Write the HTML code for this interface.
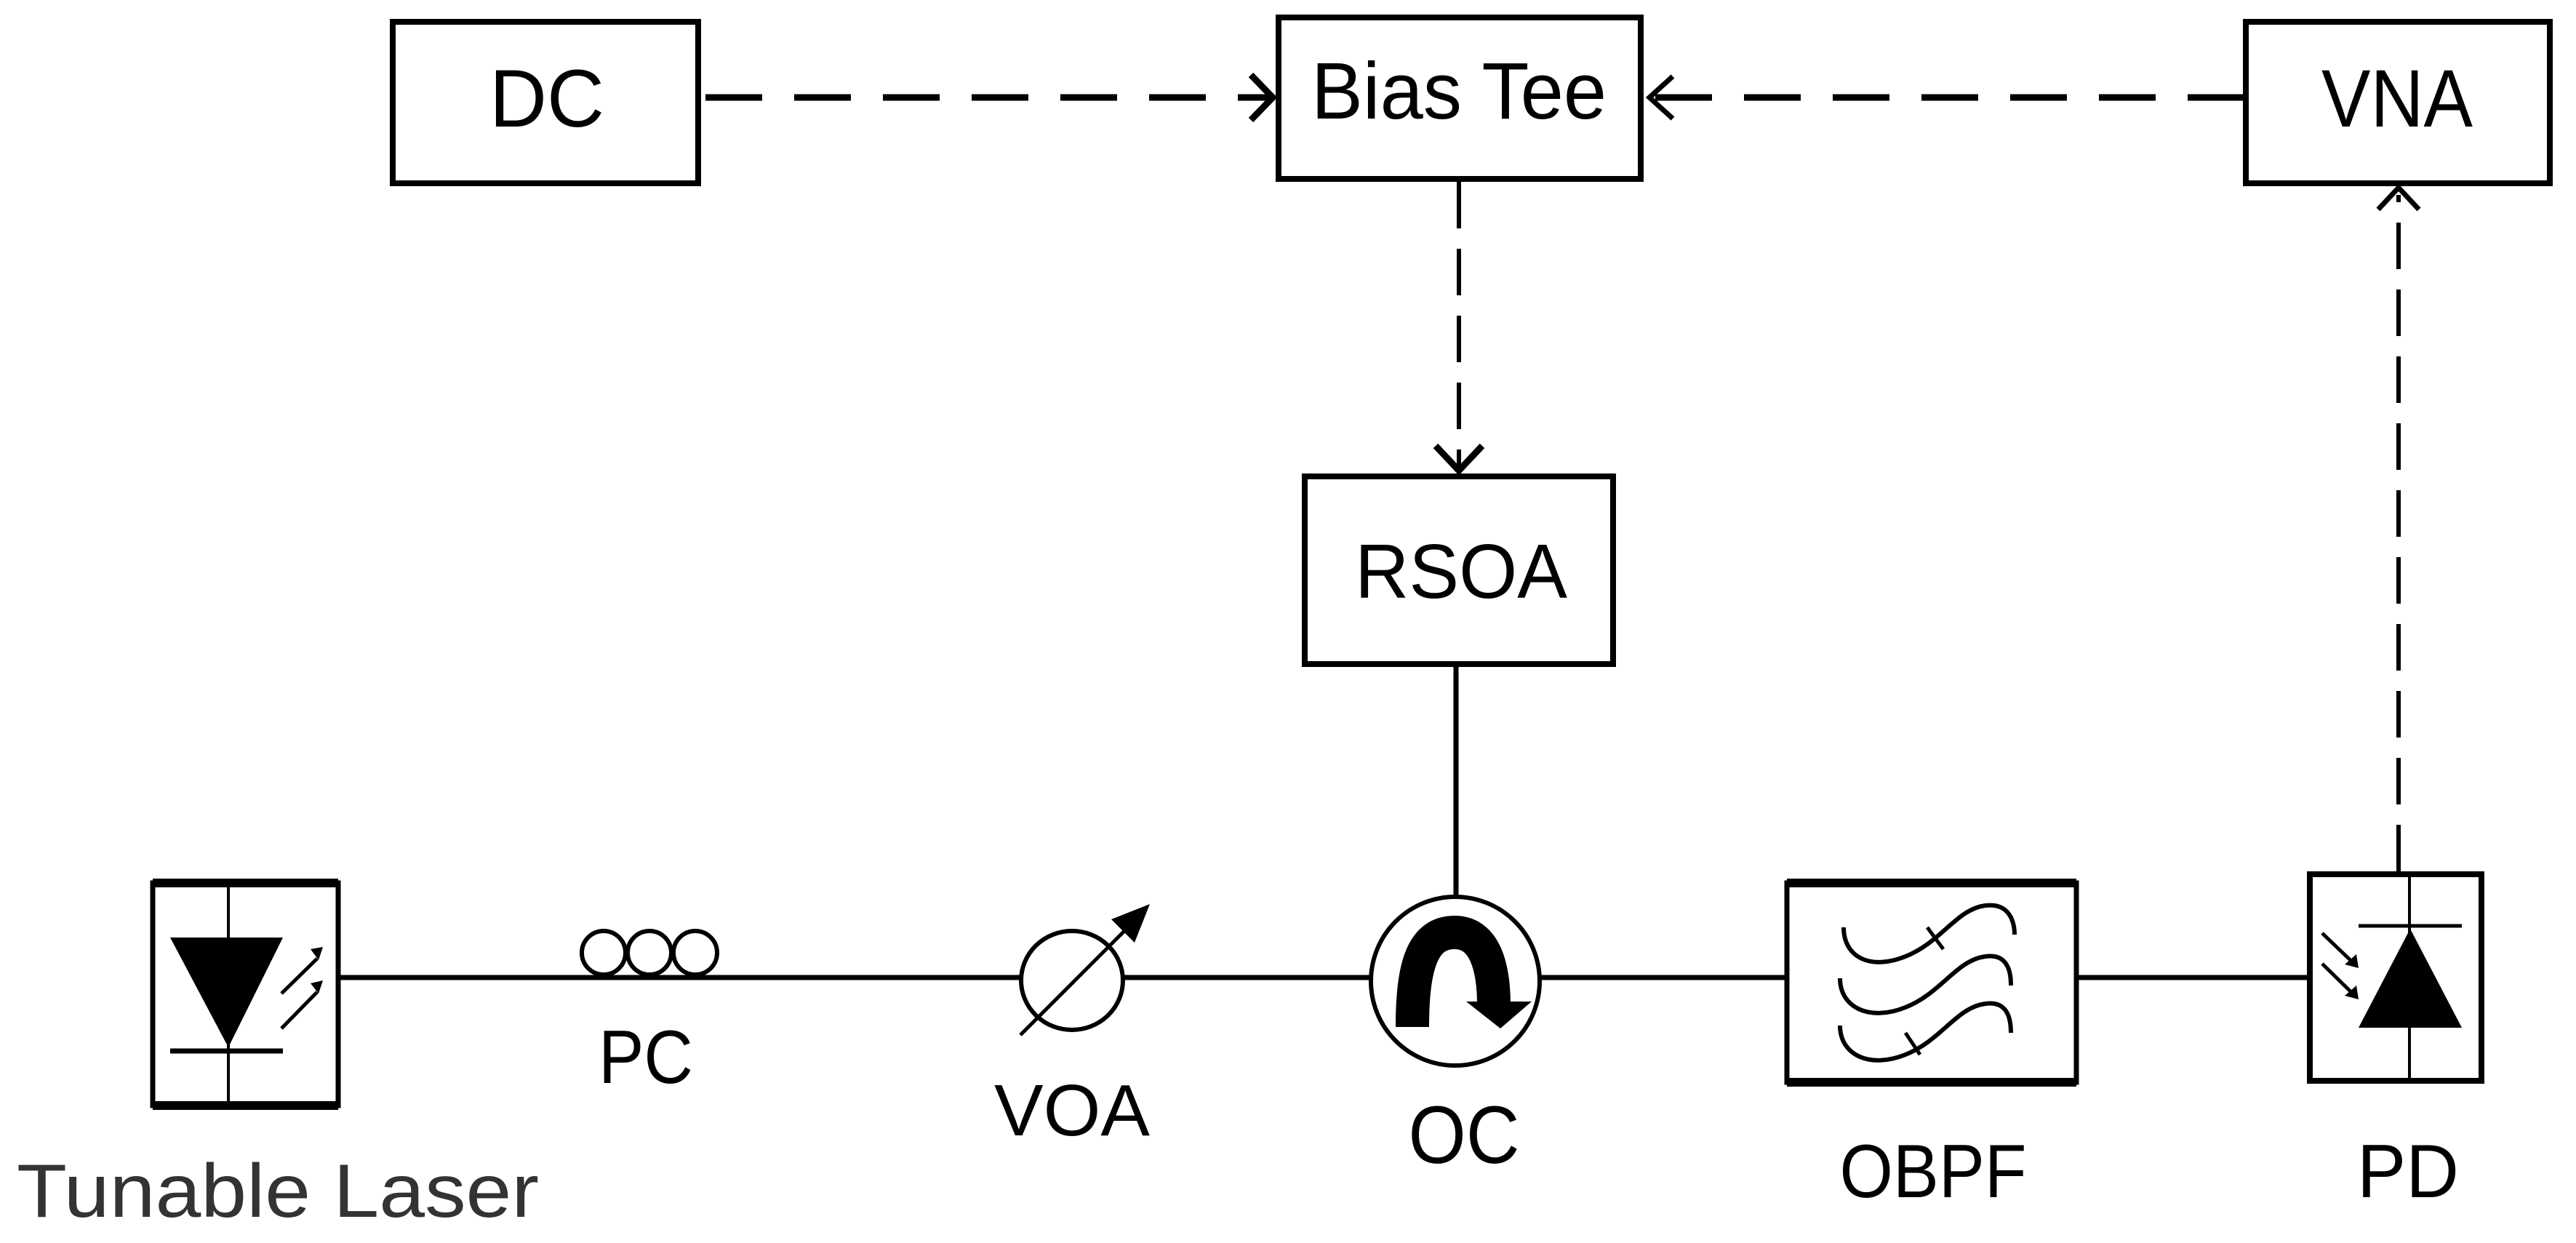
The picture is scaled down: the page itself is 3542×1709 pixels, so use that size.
<!DOCTYPE html>
<html><head><meta charset="utf-8"><style>
html,body{margin:0;padding:0;background:#fff;}
svg{display:block;}
text{font-family:"Liberation Sans",Arial,sans-serif;fill:#000;}
</style></head><body>
<svg width="3542" height="1709" viewBox="0 0 3542 1709" xmlns="http://www.w3.org/2000/svg">
<g fill="none" stroke="#000" stroke-linecap="butt">
<rect x="540" y="30" width="420" height="222" stroke-width="8"/>
<rect x="1758" y="24" width="498" height="222" stroke-width="8"/>
<rect x="3088" y="30" width="418" height="222" stroke-width="8"/>
<rect x="1794" y="655" width="424" height="258" stroke-width="8"/>
<line x1="970" y1="134" x2="1748" y2="134" stroke-width="9" stroke-dasharray="78 44"/>
<line x1="3086" y1="134" x2="2272" y2="134" stroke-width="9" stroke-dasharray="78 44"/>
<line x1="2006" y1="250" x2="2006" y2="645" stroke-width="6" stroke-dasharray="64 28"/>
<line x1="3298" y1="1198" x2="3298" y2="268" stroke-width="6" stroke-dasharray="64 28"/>
<polyline points="1720,103 1750,134 1720,165" stroke-width="9"/>
<polyline points="2300,105 2268,134 2300,163" stroke-width="7"/>
<polyline points="1974,613 2006,647 2038,613" stroke-width="9"/>
<polyline points="3270,288 3298,258 3326,288" stroke-width="7"/>
<line x1="2002" y1="913" x2="2002" y2="1234" stroke-width="7"/>
<line x1="466" y1="1344" x2="1404" y2="1344" stroke-width="7"/>
<line x1="1544" y1="1344" x2="1884" y2="1344" stroke-width="7"/>
<line x1="2118" y1="1344" x2="2456" y2="1344" stroke-width="7"/>
<line x1="2856" y1="1344" x2="3176" y2="1344" stroke-width="7"/>
<rect x="210" y="1214" width="255" height="306" stroke-width="7"/>
<line x1="210" y1="1214" x2="465" y2="1214" stroke-width="12"/>
<line x1="210" y1="1520" x2="465" y2="1520" stroke-width="12"/>
<line x1="314" y1="1218" x2="314" y2="1516" stroke-width="4"/>
<line x1="234" y1="1445" x2="389" y2="1445" stroke-width="7"/>
<line x1="387" y1="1366" x2="436" y2="1318" stroke-width="5"/>
<line x1="387" y1="1414" x2="436" y2="1364" stroke-width="5"/>
<circle cx="830" cy="1310" r="30" stroke-width="6"/>
<circle cx="893" cy="1310" r="30" stroke-width="6"/>
<circle cx="956" cy="1310" r="30" stroke-width="6"/>
<ellipse cx="1474" cy="1348" rx="70" ry="68" stroke-width="6"/>
<line x1="1403" y1="1423" x2="1560" y2="1266" stroke-width="5"/>
<ellipse cx="2001" cy="1349" rx="116" ry="116" stroke-width="6"/>
<path d="M1942,1412 C1942,1330 1955,1282 2000,1282 C2042,1282 2054,1330 2054,1382" stroke-width="46"/>
<rect x="2457" y="1214" width="398" height="274" stroke-width="7"/>
<line x1="2457" y1="1214" x2="2855" y2="1214" stroke-width="12"/>
<line x1="2457" y1="1488" x2="2855" y2="1488" stroke-width="12"/>
<path d="M2535,1275 C2535,1315 2570,1335 2620,1315 C2670,1295 2690,1250 2730,1245 C2770,1240 2770,1280 2770,1285" stroke-width="6"/>
<path d="M2530,1345 C2530,1385 2570,1405 2620,1385 C2670,1365 2690,1320 2730,1315 C2765,1310 2765,1345 2765,1355" stroke-width="6"/>
<path d="M2530,1410 C2530,1450 2570,1470 2620,1450 C2670,1430 2690,1385 2730,1380 C2765,1375 2765,1410 2765,1420" stroke-width="6"/>
<line x1="2650" y1="1275" x2="2672" y2="1305" stroke-width="5"/>
<line x1="2620" y1="1420" x2="2640" y2="1450" stroke-width="5"/>
<rect x="3176" y="1202" width="236" height="284" stroke-width="8"/>
<line x1="3313" y1="1204" x2="3313" y2="1486" stroke-width="4"/>
<line x1="3243" y1="1273" x2="3385" y2="1273" stroke-width="5"/>
<line x1="3193" y1="1283" x2="3240" y2="1328" stroke-width="5"/>
<line x1="3193" y1="1325" x2="3240" y2="1371" stroke-width="5"/>
</g>
<g fill="#000">
<polygon points="234,1289 389,1289 314,1440"/>
<polygon points="427,1305 444,1302 438,1320"/>
<polygon points="427,1352 444,1348 438,1366"/>
<polygon points="1581,1243 1528,1264 1560,1296"/>
<polygon points="2016,1377 2106,1377 2063,1414"/>
<polygon points="3314,1277 3243,1413 3385,1413"/>
<polygon points="3243,1331 3224,1326 3240,1312"/>
<polygon points="3243,1374 3224,1369 3240,1355"/>
</g>
<text x="752" y="174" font-size="112" text-anchor="middle" textLength="158" lengthAdjust="spacingAndGlyphs">DC</text>
<text x="2006" y="163" font-size="110" text-anchor="middle" textLength="406" lengthAdjust="spacingAndGlyphs">Bias Tee</text>
<text x="3296" y="174" font-size="112" text-anchor="middle" textLength="208" lengthAdjust="spacingAndGlyphs">VNA</text>
<text x="2009" y="822" font-size="106" text-anchor="middle" textLength="292" lengthAdjust="spacingAndGlyphs">RSOA</text>
<text x="382" y="1673" font-size="104" text-anchor="middle" textLength="718" lengthAdjust="spacingAndGlyphs" style="fill:#333">Tunable Laser</text>
<text x="888" y="1489" font-size="104" text-anchor="middle" textLength="130" lengthAdjust="spacingAndGlyphs">PC</text>
<text x="1474" y="1561" font-size="100" text-anchor="middle" textLength="214" lengthAdjust="spacingAndGlyphs">VOA</text>
<text x="2013" y="1599" font-size="112" text-anchor="middle" textLength="153" lengthAdjust="spacingAndGlyphs">OC</text>
<text x="2658" y="1646" font-size="104" text-anchor="middle" textLength="257" lengthAdjust="spacingAndGlyphs">OBPF</text>
<text x="3311" y="1646" font-size="104" text-anchor="middle" textLength="140" lengthAdjust="spacingAndGlyphs">PD</text>
</svg>
</body></html>
